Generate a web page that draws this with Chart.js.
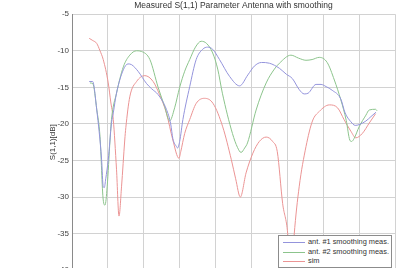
<!DOCTYPE html>
<html>
<head>
<meta charset="utf-8">
<script src="https://cdn.jsdelivr.net/npm/chart.js@4.4.1/dist/chart.umd.min.js"></script>
<style>
  html, body { margin: 0; padding: 0; background: #fff; overflow: hidden; }
  #wrap { position: relative; width: 414px; height: 278px; }
  #legend {
    position: absolute; left: 278px; top: 235px; width: 112px; height: 31px;
    background: #fff; border: 1px solid #8c8c8c;
    font: 7.4px "Liberation Sans", Arial, sans-serif; color: #333;
  }
  #legend .row { position: absolute; left: 0; height: 10px; line-height: 10px; white-space: nowrap; }
  #legend .swatch { position: absolute; left: 4px; top: 5px; width: 22px; height: 1px; }
  #legend .label { position: absolute; left: 29px; top: 0; }
</style>
</head>
<body>
<div id="wrap">
  <canvas id="chart"></canvas>
  <div id="legend"></div>
</div>
<script>
/* ---------- data (x in grid units, y in dB) ---------- */
const titleText  = 'Measured S(1,1) Parameter Antenna with smoothing';
const yLabel     = 'S(1,1)[dB]';
const yTicks     = [-5, -10, -15, -20, -25, -30, -35, -40];

const ant1X = [0.48,0.575,0.69,0.825,0.87,0.90,0.94,1.01,1.10,1.15,1.24,1.43,1.56,1.66,1.84,2.08,2.22,2.40,2.63,2.75,2.81,2.91,2.94,3.0,3.09,3.28,3.46,3.64,3.78,3.92,4.11,4.39,4.67,4.90,5.08,5.28,5.5,5.78,5.97,6.14,6.33,6.47,6.58,6.80,6.94,7.08,7.25,7.49,7.61,7.77,7.89,8.0,8.19,8.33,8.47];
const ant1Y = [-14.2,-14.2,-18.1,-24.9,-28.6,-28.7,-27.5,-24.9,-19.9,-18.5,-15.8,-12.6,-11.8,-11.9,-12.8,-14.5,-15.2,-16.0,-18.0,-20.0,-22.0,-23.1,-23.3,-22.4,-19.4,-14.9,-11.2,-9.8,-9.5,-9.8,-11.2,-13.5,-14.8,-13.3,-12.1,-11.6,-11.7,-12.4,-13.2,-13.8,-15.3,-15.9,-15.8,-14.6,-14.6,-14.9,-15.4,-16.6,-18.5,-19.7,-20.2,-20.1,-19.6,-19.0,-18.4];

const ant2X = [0.5,0.58,0.69,0.78,0.87,0.92,0.98,1.06,1.10,1.24,1.43,1.61,1.80,1.94,2.17,2.40,2.58,2.72,2.86,3.0,3.14,3.28,3.44,3.60,3.75,3.92,4.06,4.19,4.47,4.61,4.71,4.81,4.89,5.13,5.41,5.64,5.78,6.10,6.31,6.52,6.69,6.89,7.11,7.31,7.49,7.64,7.74,7.79,7.86,8.0,8.19,8.28,8.46,8.5];
const ant2Y = [-14.4,-14.5,-18.0,-21.7,-30.4,-31.1,-28.6,-22.2,-19.4,-15.8,-12.2,-10.6,-10.0,-10.1,-11.2,-15.0,-17.6,-19.6,-17.8,-15.0,-12.8,-11.2,-9.5,-8.7,-9.0,-10.3,-12.5,-15.8,-21.3,-23.2,-23.9,-23.3,-22.6,-18.1,-14.4,-12.5,-11.7,-10.6,-11.0,-11.3,-11.2,-10.9,-11.6,-14.0,-16.7,-19.5,-22.2,-22.4,-22.0,-20.4,-18.8,-18.1,-18.0,-18.2];

const simX = [0.48,0.58,0.69,0.78,0.87,1.01,1.08,1.15,1.24,1.31,1.38,1.47,1.50,1.61,1.80,2.03,2.26,2.44,2.63,2.81,2.98,3.03,3.14,3.28,3.46,3.69,3.93,4.20,4.44,4.56,4.69,4.85,5.04,5.22,5.41,5.59,5.72,5.87,6.01,6.10,6.19,6.33,6.52,6.70,6.89,7.17,7.40,7.58,7.77,7.91,8.09,8.28,8.46];
const simY = [-8.3,-8.6,-9.0,-10.0,-11.2,-14.4,-17.0,-19.4,-26.2,-32.6,-28.6,-22.2,-20.5,-16.3,-14.2,-13.4,-14.2,-16.0,-18.5,-22.2,-24.7,-23.8,-21.3,-19.4,-17.2,-16.5,-17.2,-20.4,-24.9,-27.5,-30.0,-26.7,-24.0,-22.4,-21.8,-22.4,-23.8,-30.9,-35.0,-42.0,-35.2,-28.6,-23.1,-19.6,-18.3,-17.4,-17.8,-19.4,-21.0,-21.9,-21.3,-19.9,-18.6];

const seriesNames  = ['ant. #1 smoothing meas.', 'ant. #2 smoothing meas.', 'sim'];
const seriesColors = ['#9494dc', '#8cc48c', '#eb9494'];

/* ---------- build ---------- */
function pts(xs, ys) { return xs.map((x, i) => ({ x, y: ys[i] })); }

const gridStyle = { color: '#d2d2d2', borderDash: [1, 2], tickLength: 0, drawTicks: false };

const datasets = [pts(ant1X, ant1Y), pts(ant2X, ant2Y), pts(simX, simY)].map((d, i) => ({
  label: seriesNames[i],
  data: d,
  borderColor: seriesColors[i],
  borderWidth: 1,
  pointRadius: 0,
  fill: false,
  cubicInterpolationMode: 'monotone'
}));

new Chart(document.getElementById('chart'), {
  type: 'line',
  data: { datasets },
  options: {
    responsive: true,
    maintainAspectRatio: false,
    animation: false,
    layout: { padding: { left: 0, right: 19, top: 0, bottom: 1 } },
    plugins: {
      legend: { display: false },
      tooltip: { enabled: false },
      title: {
        display: true, text: titleText, fullSize: false, color: '#333',
        font: { family: 'Liberation Sans', size: 8.5, weight: 'normal', lineHeight: 1.2 },
        padding: { top: 1, bottom: 3 }
      }
    },
    scales: {
      x: {
        type: 'linear', min: 0, max: 9,
        ticks: { display: false, stepSize: 1 },
        grid: gridStyle,
        border: { display: false }
      },
      y: {
        type: 'linear', min: -40, max: -5,
        afterBuildTicks: s => { s.ticks = yTicks.map(v => ({ value: v })); },
        afterFit: s => { s.width = 72; },
        ticks: { color: '#444', padding: 3, font: { family: 'Liberation Sans', size: 8 } },
        grid: gridStyle,
        border: { display: true, color: '#8a8a8a', width: 1 },
        title: {
          display: true, text: yLabel, color: '#333',
          font: { family: 'Liberation Sans', size: 8, lineHeight: 1.2 },
          padding: { top: 48, bottom: 0 }
        }
      }
    }
  }
});

/* ---------- legend overlay ---------- */
const legendEl = document.getElementById('legend');
seriesNames.forEach((name, i) => {
  const row = document.createElement('div');
  row.className = 'row';
  row.style.top = (1 + i * 9.5) + 'px';
  row.innerHTML = `<span class="swatch" style="background:${seriesColors[i]}"></span><span class="label">${name}</span>`;
  legendEl.appendChild(row);
});
</script>
</body>
</html>
